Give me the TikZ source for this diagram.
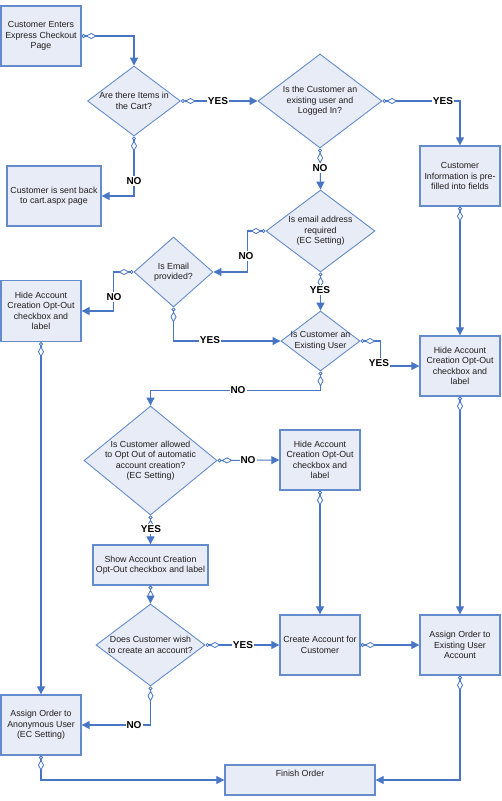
\documentclass[tikz,border=0pt]{standalone}
\usepackage{fontspec}
\setmainfont{Liberation Sans}
\usetikzlibrary{shapes.geometric,arrows.meta}
\definecolor{ln}{RGB}{72,118,196}
\definecolor{bd}{RGB}{100,140,205}
\definecolor{fl}{RGB}{232,236,246}
\definecolor{tx}{RGB}{30,30,30}
\tikzset{
 box/.style={draw=bd, line width=1.3pt, fill=fl, inner sep=0pt, font=\fontsize{8.8}{10.5}\selectfont, text=tx, align=center, minimum width=80pt, minimum height=60pt},
 dia/.style={diamond, draw=bd, line width=0.9pt, fill=fl, inner sep=0pt},
 dtxt/.style={font=\fontsize{8.8}{10.5}\selectfont, text=tx, align=center, inner sep=0pt},
 conn/.style={draw=ln, line width=1.1pt, {Circle[fill=white,length=4pt,width=4pt,sep=0pt,line width=0.8pt]Diamond[fill=white,length=11pt,width=6pt,line width=0.8pt]}-{Triangle[length=8pt,width=8pt]}},
 lbl/.style={fill=white, font=\bfseries\fontsize{10}{12}\selectfont, inner sep=1pt, text=black},
}
\begin{document}
\begin{tikzpicture}[x=1pt,y=-1pt]
\useasboundingbox (0,0) rectangle (501,801);
% boxes
\node[box] (b1) at (41,36) {Customer Enters\\Express Checkout\\Page};
\node[box, minimum width=94pt] (bcart) at (54,196) {Customer is sent back\\to cart.aspx page};
\node[box] (binfo) at (460,176) {Customer\\Information is pre-\\filled into fields};
\node[box, minimum height=61pt] (bhideL) at (41,311) {Hide Account\\Creation Opt-Out\\checkbox and\\label};
\node[box] (bhideR) at (460,366) {Hide Account\\Creation Opt-Out\\checkbox and\\label};
\node[box] (bhideM) at (320,460) {Hide Account\\Creation Opt-Out\\checkbox and\\label};
\node[box, minimum width=115pt, minimum height=40pt] (bshow) at (150.5,565) {Show Account Creation\\Opt-Out checkbox and label};
\node[box] (bcreate) at (320,645) {Create Account for\\Customer};
\node[box] (bassign) at (460,645) {Assign Order to\\Existing User\\Account};
\node[box] (banon) at (41,725) {Assign Order to\\Anonymous User\\(EC Setting)};
\node[box, minimum width=150pt, minimum height=30pt] (bfinish) at (300,780) {};
\node[dtxt] (tfinish) at (300,773) {Finish Order};
% diamonds
\node[dia, minimum width=93pt, minimum height=70pt] (d1) at (134,101) {};
\node[dtxt] (t1) at (d1) {Are there Items in\\the Cart?};
\node[dia, minimum width=124pt, minimum height=94pt] (d2) at (320,101) {};
\node[dtxt] (t2) at (d2) {Is the Customer an\\existing user and\\Logged In?};
\node[dia, minimum width=109pt, minimum height=82pt] (d3) at (320.5,231) {};
\node[dtxt] (t3) at (d3) {Is email address\\required\\(EC Setting)};
\node[dia, minimum width=79pt, minimum height=70pt] (d4) at (173.5,272) {};
\node[dtxt] (t4) at (d4) {Is Email\\provided?};
\node[dia, minimum width=79pt, minimum height=60pt] (d5) at (320.5,341) {};
\node[dtxt] (t5) at (d5) {Is Customer an\\Existing User};
\node[dia, minimum width=133pt, minimum height=109pt] (d6) at (150.5,460.5) {};
\node[dtxt] (t6) at (d6) {Is Customer allowed\\to Opt Out of automatic\\account creation?\\(EC Setting)};
\node[dia, minimum width=109pt, minimum height=82pt] (d7) at (150.5,645) {};
\node[dtxt] (t7) at (d7) {Does Customer wish\\to create an account?};
% connectors
\draw[conn] (b1.east) -| (d1.north);
\draw[conn] (d1.east) -- (d2.west);
\draw[conn] (d1.south) |- (bcart.east);
\draw[conn] (d2.east) -| (binfo.north);
\draw[conn] (d2.south) -- (d3.north);
\draw[conn] (d3.west) -- ++(-18,0) |- (d4.east);
\draw[conn] (d4.west) -- ++(-20,0) |- (bhideL.east);
\draw[conn] (d4.south) |- (d5.west);
\draw[conn] (d3.south) -- (d5.north);
\draw[conn] (d5.east) -- ++(20,0) |- (bhideR.west);
\draw[conn] (binfo.south) -- (bhideR.north);
\draw[conn] (d5.south) -- ++(0,19) -| (d6.north);
\draw[conn] (d6.east) -- (bhideM.west);
\draw[conn] (d6.south) -- (bshow.north);
\draw[conn] (bshow.south) -- (d7.north);
\draw[conn] (d7.east) -- (bcreate.west);
\draw[conn] (bhideM.south) -- (bcreate.north);
\draw[conn] (bcreate.east) -- (bassign.west);
\draw[conn] (bhideR.south) -- (bassign.north);
\draw[conn] (bhideL.south) -- (banon.north);
\draw[conn] (d7.south) |- (banon.east);
\draw[conn] (banon.south) |- (bfinish.west);
\draw[conn] (bassign.south) |- (bfinish.east);
% labels
\node[lbl] (l1) at (218,101) {YES};
\node[lbl] (l2) at (134,181) {NO};
\node[lbl] (l3) at (443,101) {YES};
\node[lbl] (l4) at (320,168) {NO};
\node[lbl] (l5) at (246,256) {NO};
\node[lbl] (l6) at (114,297) {NO};
\node[lbl] (l7) at (210,340) {YES};
\node[lbl] (l8) at (320,290) {YES};
\node[lbl] (l9) at (379,363) {YES};
\node[lbl] (l10) at (238,390) {NO};
\node[lbl] (l11) at (248,460) {NO};
\node[lbl] (l12) at (151,529) {YES};
\node[lbl] (l13) at (243,645) {YES};
\node[lbl] (l14) at (134,725) {NO};
\end{tikzpicture}
\end{document}
